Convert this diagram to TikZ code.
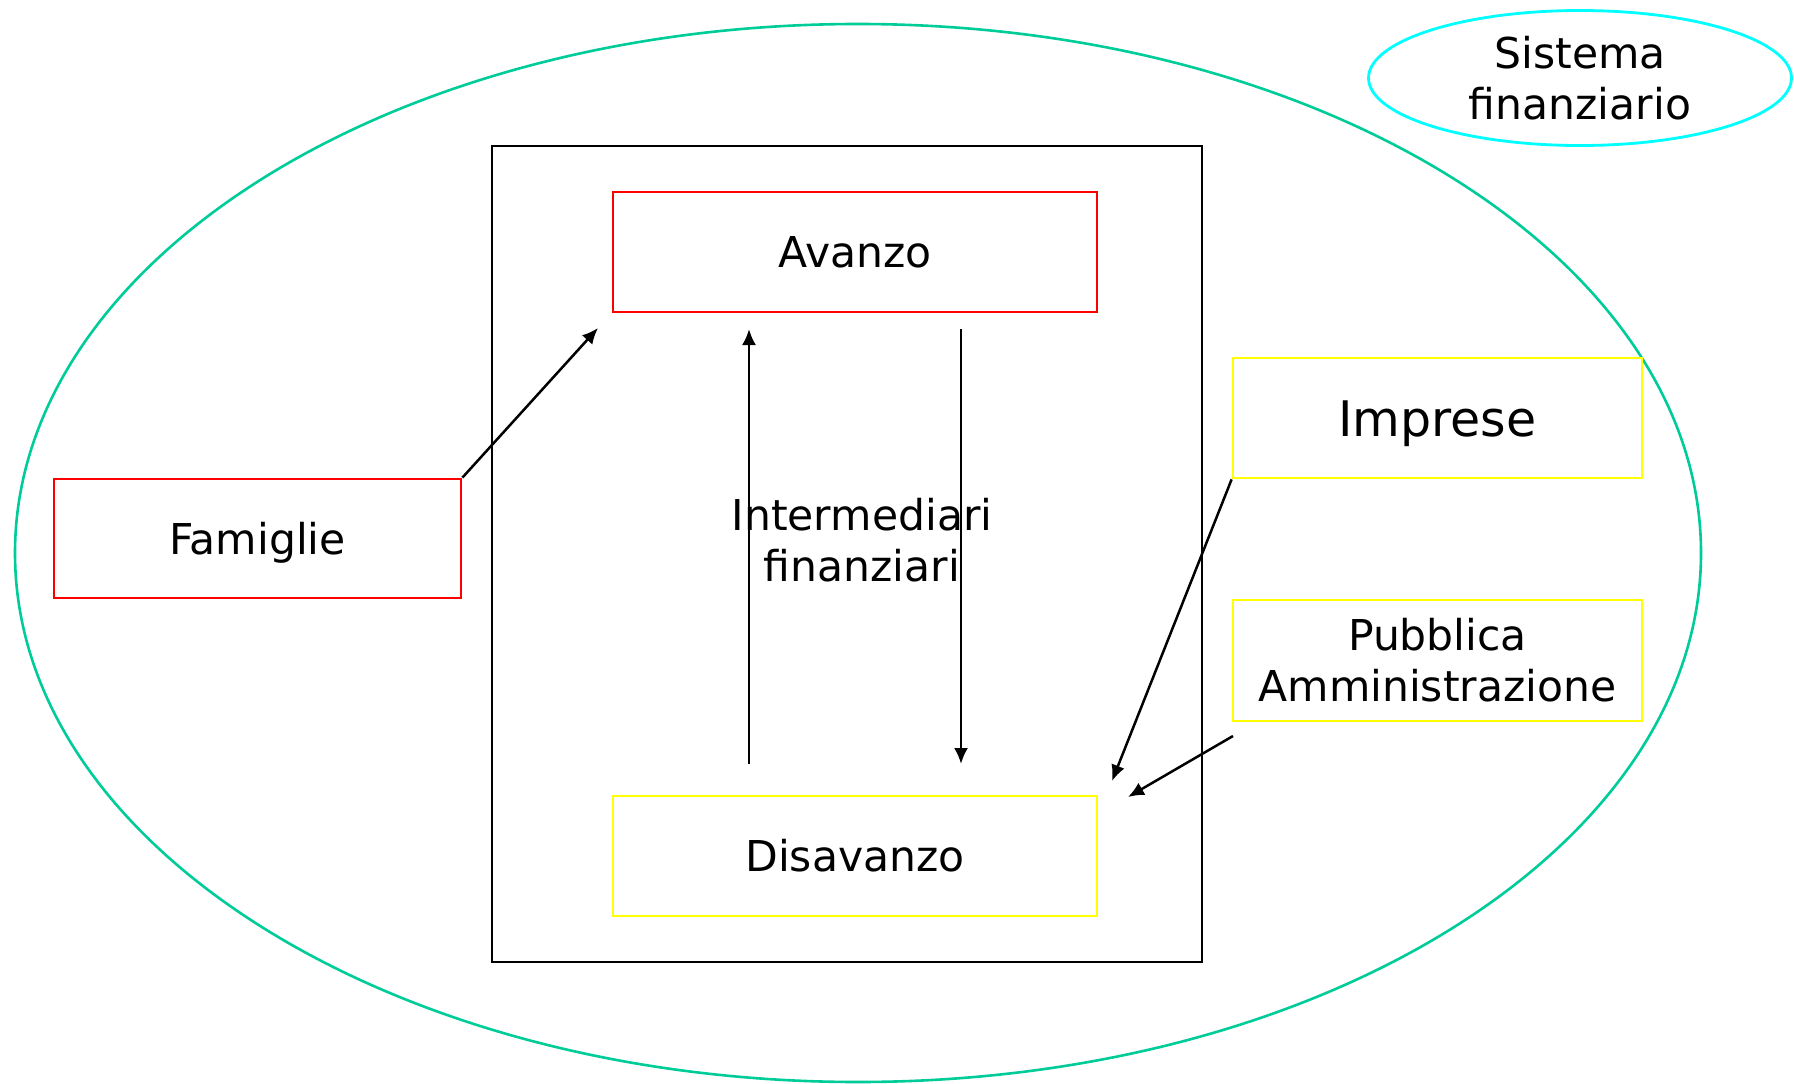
\documentclass[tikz,border=0pt]{standalone}
\usepackage{fontspec}
\setmainfont{DejaVu Sans}
\usetikzlibrary{shapes.geometric,arrows.meta}
\definecolor{outergreen}{HTML}{00CC99}
\definecolor{skycyan}{HTML}{00FFFF}
\definecolor{boxred}{HTML}{FF0000}
\definecolor{boxyellow}{HTML}{FFFF00}
\tikzset{
  lbl/.style={font=\fontsize{42.5pt}{51pt}\selectfont, align=center},
  oneline/.style={text height=42pt, text depth=11pt},
  redbox/.style={draw=boxred, line width=2.8pt, rectangle, inner sep=0pt, lbl},
  yelbox/.style={draw=boxyellow, line width=2.8pt, rectangle, inner sep=0pt, lbl},
  arr/.style={line width=2.5pt, -{Latex[length=16pt,width=14pt]}},
}
\begin{document}
\begin{tikzpicture}[x=1pt,y=-1pt]
\useasboundingbox (0,0) rectangle (1794,1084);
% outer ellipse
\node[draw=outergreen, line width=2.6pt, ellipse, minimum width=1686pt, minimum height=1058pt, inner sep=0pt] (outer) at (858,553) {};
% small ellipse
\node[draw=skycyan, line width=2.8pt, ellipse, minimum width=423pt, minimum height=135pt, inner sep=0pt, lbl] (sist) at (1580,78) {Sistema\\finanziario};
% frame
\node[draw=black, line width=2.6pt, rectangle, minimum width=710pt, minimum height=816pt, inner sep=0pt] (frame) at (847,554) {};
\node[lbl] (inter) at (862,540) {Intermediari\\finanziari};
% boxes
\node[redbox, oneline, minimum width=484pt, minimum height=120pt] (av) at (855,252) {Avanzo};
\node[yelbox, oneline, minimum width=484pt, minimum height=120pt] (dis) at (855,856) {Disavanzo};
\node[redbox, oneline, minimum width=407pt, minimum height=119pt] (fam) at (257.5,538.5) {Famiglie};
\node[yelbox, minimum width=409pt, minimum height=120pt, font=\fontsize{49pt}{56pt}\selectfont, text height=48pt, text depth=12pt] (imp) at (1437.5,418) {Imprese};
\node[yelbox, minimum width=409pt, minimum height=121pt] (pub) at (1437.5,660.5) {Pubblica\\Amministrazione};
% free ends
\coordinate (famend) at (598,328);
\coordinate (upstart) at (749,764);
\coordinate (upend) at (749,329);
\coordinate (downstart) at (961,329);
\coordinate (downend) at (961,764);
\coordinate (impend) at (1112,781);
\coordinate (pubstart) at (1233,736);
\coordinate (pubend) at (1128,797);
% arrows
\draw[arr] (fam.north east) -- (famend);
\draw[arr] (upstart) -- (upend);
\draw[arr] (downstart) -- (downend);
\draw[arr] (imp.south west) -- (impend);
\draw[arr] (pubstart) -- (pubend);
\end{tikzpicture}
\end{document}
